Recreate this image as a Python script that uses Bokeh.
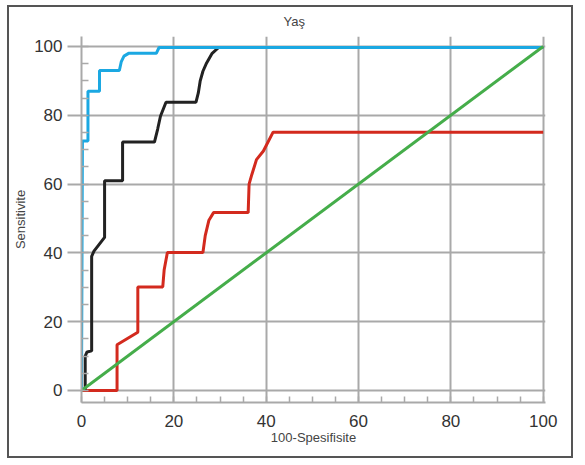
from bokeh.plotting import figure
from bokeh.models import Range1d, SingleIntervalTicker
from bokeh.embed import file_html
from bokeh.resources import INLINE

# Data
blue_x = [0, 0.2, 1.4, 1.4, 3.9, 3.9, 8.2, 8.6, 9.2, 10.2, 16.2, 16.8, 100]
blue_y = [0, 72.5, 72.5, 87, 87, 93, 93, 95.5, 97.2, 98, 98, 99.7, 99.7]

black_x = [0.8, 0.8, 1.2, 2.2, 2.2, 2.7, 5.0, 5.0, 8.9, 8.9, 15.8, 16.5, 17.1, 18.3,
           24.8, 25.3, 25.7, 26.3, 27.1, 28.3, 29.7, 100]
black_y = [0, 10, 11.2, 11.5, 39, 40.5, 44.5, 61, 61, 72.2, 72.2, 76, 79.7, 83.8,
           83.8, 86.5, 89.9, 92.8, 95.2, 98, 99.7, 99.7]

red_x = [0, 7.7, 7.7, 12.2, 12.2, 17.6, 17.9, 18.6, 26.3, 26.8, 27.6, 28.6, 36.1,
         36.3, 36.9, 37.9, 39.4, 41.5, 100]
red_y = [0, 0, 13.3, 16.9, 30.1, 30.1, 35, 40.1, 40.1, 45, 49.5, 51.7, 51.7,
         60, 62.8, 67.1, 69.6, 75.1, 75.1]

green_x = [0, 100]
green_y = [0, 100]

title_text = "Yaş"
x_label = "100-Spesifisite"
y_label = "Sensitivite"

GRID = "#a9a9a9"
FONT = "Liberation Sans"

p = figure(width=566, height=453, output_backend="svg", toolbar_location=None,
           x_range=Range1d(0, 100.5), y_range=Range1d(-3.5, 102.9),
           min_border_left=72, min_border_right=30, min_border_top=28,
           min_border_bottom=58, title=title_text)
p.styles = {"border": "2px solid #555555", "margin-left": "7px", "margin-top": "5px"}
p.outline_line_color = None
p.background_fill_color = "white"
p.border_fill_color = "white"

p.title.text_font = FONT
p.title.text_font_size = "13px"
p.title.text_font_style = "normal"
p.title.text_color = "#444444"
p.title.align = "left"
p.title.offset = 202
p.title.standoff = 12
p.title.vertical_align = "top"

for ax in (p.xaxis[0], p.yaxis[0]):
    ax.axis_line_color = GRID
    ax.axis_line_width = 2
    ax.major_tick_line_color = GRID
    ax.major_tick_line_width = 2
    ax.minor_tick_line_color = GRID
    ax.minor_tick_line_width = 1.5
    ax.major_label_text_font = FONT
    ax.major_label_text_font_size = "17px"
    ax.major_label_text_color = "#333333"
    ax.axis_label_text_font = FONT
    ax.axis_label_text_font_size = "13px"
    ax.axis_label_text_font_style = "normal"
    ax.axis_label_text_color = "#444444"

p.xaxis.ticker = SingleIntervalTicker(interval=20, num_minor_ticks=4)
p.yaxis.ticker = SingleIntervalTicker(interval=20, num_minor_ticks=4)
p.xaxis.major_tick_out = 0
p.xaxis.major_tick_in = 0
p.xaxis.minor_tick_in = 6
p.xaxis.minor_tick_out = 0
p.xaxis.major_label_standoff = 12
p.xaxis.axis_label = x_label
p.xaxis.axis_label_standoff = 0

p.yaxis.major_tick_out = 14
p.yaxis.major_tick_in = 0
p.yaxis.minor_tick_in = 7
p.yaxis.minor_tick_out = 0
p.yaxis.major_label_standoff = 5
p.yaxis.axis_label = y_label
p.yaxis.axis_label_standoff = 3

p.grid.grid_line_color = GRID
p.grid.grid_line_width = 2
p.grid.grid_line_alpha = 1.0

p.line(red_x, red_y, line_color="#d32a1e", line_width=3)
p.line(black_x, black_y, line_color="#222222", line_width=3)
p.line(blue_x, blue_y, line_color="#1ba8e2", line_width=3)
p.line(green_x, green_y, line_color="#45ad4a", line_width=3)

open("out.html", "w").write(file_html(p, INLINE))
